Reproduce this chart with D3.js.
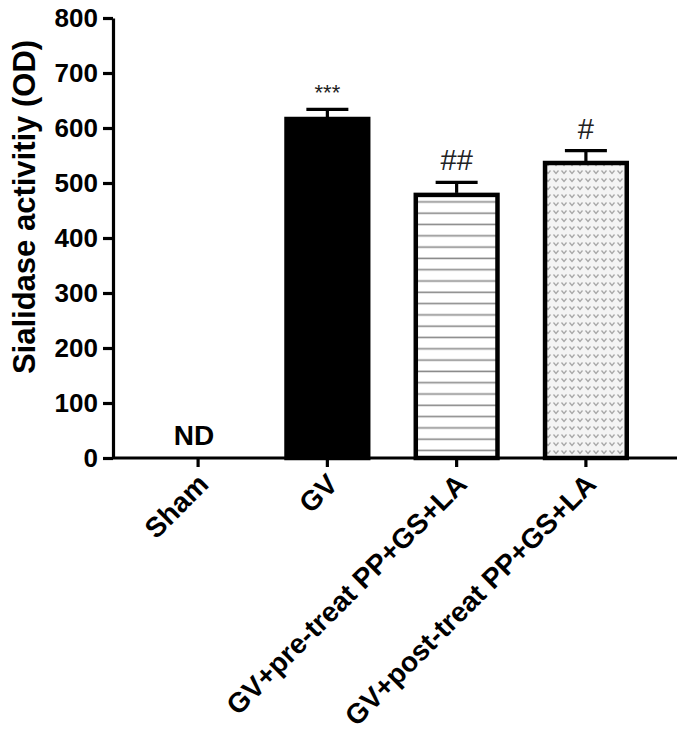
<!DOCTYPE html>
<html><head><meta charset="utf-8">
<script src="https://cdn.jsdelivr.net/npm/d3@7/dist/d3.min.js"></script>
<style>body{margin:0;background:#fff}svg{display:block}text{font-family:"Liberation Sans",Arial,sans-serif}</style>
</head><body><svg id="c" width="685" height="737"></svg>
<script>
const categories = ["Sham","GV","GV+pre-treat PP+GS+LA","GV+post-treat PP+GS+LA"];
const values = [0, 620, 482, 540];
const errors = [0, 14, 19, 19];
const annotations = ["ND","***","##","#"];
const yTicks = [0,100,200,300,400,500,600,700,800];

const svg = d3.select("#c");
const defs = svg.append("defs");
const ph = defs.append("pattern").attr("id","hlines").attr("patternUnits","userSpaceOnUse").attr("width",10).attr("height",11.3);
ph.append("rect").attr("width",10).attr("height",11.3).attr("fill","#fff");
ph.append("rect").attr("y",9).attr("width",10).attr("height",1.6).attr("fill","#8a8a8a");
const pv = defs.append("pattern").attr("id","vdots").attr("patternUnits","userSpaceOnUse").attr("width",8).attr("height",8);
pv.append("rect").attr("width",8).attr("height",8).attr("fill","#f4f4f4");
pv.append("path").attr("d","M1.5,2.5 L4,5.5 L6.5,2.5").attr("fill","none").attr("stroke","#a8a8a8").attr("stroke-width",1.3);

const y = d3.scaleLinear().domain([0,800]).range([458,18]);
const x = d3.scaleBand().domain(categories).range([110,674]).paddingInner(0.337).paddingOuter(0.35);

const fills = ["none","#000","url(#hlines)","url(#vdots)"];

svg.append("g").selectAll("rect").data(categories).join("rect")
  .attr("x",(d)=>x(d)+2).attr("width",x.bandwidth()-4)
  .attr("y",(d,i)=>y(values[i])+2).attr("height",(d,i)=>Math.max(0,y(0)-y(values[i])-2))
  .attr("fill",(d,i)=>fills[i]).attr("stroke","#000").attr("stroke-width",(d,i)=>values[i]>0?4.5:0);

const eb = svg.append("g").attr("stroke","#000").attr("stroke-width",3.2);
categories.forEach((c,i)=>{
  if(!values[i]) return;
  const cx = x(c)+x.bandwidth()/2;
  eb.append("line").attr("x1",cx).attr("x2",cx).attr("y1",y(values[i])).attr("y2",y(values[i]+errors[i]));
  eb.append("line").attr("x1",cx-21).attr("x2",cx+21).attr("y1",y(values[i]+errors[i])).attr("y2",y(values[i]+errors[i]));
});

const ya = svg.append("g").attr("transform","translate(113,0)")
  .call(d3.axisLeft(y).tickValues(yTicks).tickSize(10).tickSizeOuter(0).tickFormat(d3.format("d")));
ya.select(".domain").attr("stroke-width",3.2);
ya.selectAll(".tick line").attr("stroke-width",3.2);
ya.selectAll(".tick text").attr("font-size",26).attr("font-weight","bold").attr("fill","#000").attr("x",-15);

const xa = svg.append("g").attr("transform","translate(0,458)")
  .call(d3.axisBottom(x).tickSize(9).tickSizeOuter(0));
xa.select(".domain").attr("stroke-width",3.2).attr("d","M113,0H677");
xa.selectAll(".tick line").attr("stroke-width",3.2);
xa.selectAll(".tick text").attr("font-size",28).attr("font-weight","bold").attr("fill","#000")
  .attr("text-anchor","end").attr("y",0).attr("dy",0)
  .attr("transform","translate(12,28) rotate(-45)");

categories.forEach((c,i)=>{
  const cx = x(c)+x.bandwidth()/2;
  if(i===0){
    svg.append("text").attr("x",cx-4).attr("y",445).attr("text-anchor","middle")
      .attr("font-size",28).attr("font-weight","bold").text(annotations[i]);
  } else {
    const top = y(values[i]+errors[i]);
    svg.append("text").attr("x",cx).attr("y",top-(i===1?9:12)).attr("text-anchor","middle")
      .attr("font-size",i===1?22:29).attr("fill","#222").text(annotations[i]);
  }
});

svg.append("text").attr("transform","translate(35,207) rotate(-90)").attr("text-anchor","middle")
  .attr("font-size",31).attr("font-weight","bold").text("Sialidase activitiy (OD)");
</script></body></html>
